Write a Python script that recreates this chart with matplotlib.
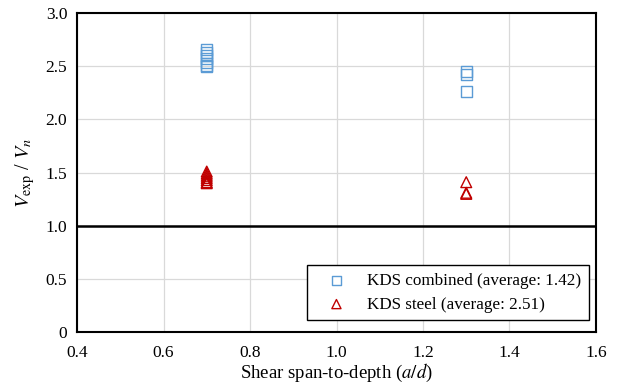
import numpy as np
import matplotlib
matplotlib.use('Agg')
import matplotlib.pyplot as plt

plt.rcParams['font.family'] = 'Liberation Serif'
plt.rcParams['mathtext.fontset'] = 'stix'

# data
ad_combined = [0.7, 0.7, 0.7, 0.7, 0.7, 0.7, 0.7, 1.3, 1.3, 1.3]
ratio_combined = [2.66, 2.63, 2.60, 2.57, 2.53, 2.51, 2.50, 2.45, 2.42, 2.26]
ad_steel = [0.7, 0.7, 0.7, 0.7, 0.7, 0.7, 0.7, 1.3, 1.3, 1.3]
ratio_steel = [1.51, 1.49, 1.47, 1.45, 1.43, 1.41, 1.40, 1.41, 1.31, 1.30]
label_combined = 'KDS combined (average: 1.42)'
label_steel = 'KDS steel (average: 2.51)'

fig = plt.figure(figsize=(6.18, 3.87), dpi=100)
ax = fig.add_axes([0.1246, 0.142, 0.8398, 0.824])

ax.scatter(ad_combined, ratio_combined, marker='s', s=60, facecolors='none',
           edgecolors='#5B9BD5', linewidths=1.0, label=label_combined, zorder=3)
ax.scatter(ad_steel, ratio_steel, marker='^', s=60, facecolors='none',
           edgecolors='#C00000', linewidths=1.0, label=label_steel, zorder=3)

ax.axhline(1.0, color='black', linewidth=1.8, zorder=2)

ax.set_xlim(0.4, 1.6)
ax.set_ylim(0, 3.0)
ax.set_xticks(np.arange(0.4, 1.61, 0.2))
ax.set_yticks(np.arange(0, 3.01, 0.5))
ax.set_xticklabels(['0.4', '0.6', '0.8', '1.0', '1.2', '1.4', '1.6'])
ax.set_yticklabels(['0', '0.5', '1.0', '1.5', '2.0', '2.5', '3.0'])
ax.tick_params(length=0, labelsize=12.5)
ax.tick_params(axis='x', pad=9)
ax.tick_params(axis='y', pad=7)
ax.grid(True, color='#d9d9d9', linewidth=0.9, zorder=0)
ax.set_axisbelow(True)
for s in ax.spines.values():
    s.set_linewidth(1.5)
    s.set_color('black')

ax.set_xlabel('Shear span-to-depth ($a/d$)', fontsize=13.5, labelpad=1)
ax.set_ylabel('$V_{\\mathrm{exp}}$ / $V_n$', fontsize=14.5, labelpad=6)

leg = ax.legend(loc='lower right', bbox_to_anchor=(0.9865, 0.037),
                fontsize=12.3, frameon=True, fancybox=False,
                edgecolor='black', framealpha=1, borderpad=0.45,
                handlelength=2.6, handletextpad=0.5, borderaxespad=0,
                labelspacing=0.45, markerscale=0.85)
leg.get_frame().set_linewidth(1.0)

fig.savefig('out.png', dpi=100)
